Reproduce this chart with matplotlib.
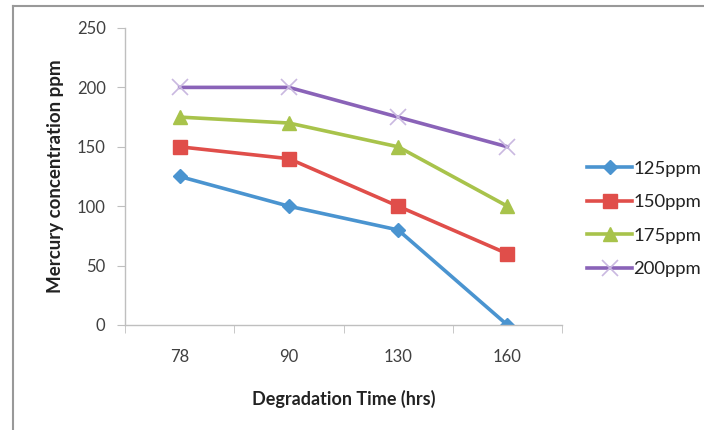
import matplotlib.pyplot as plt
import numpy as np

# data
times = ["78", "90", "130", "160"]
conc_125 = [125, 100, 80, 0]
conc_150 = [150, 140, 100, 60]
conc_175 = [175, 170, 150, 100]
conc_200 = [200, 200, 175, 150]
series_names = ["125ppm", "150ppm", "175ppm", "200ppm"]

plt.rcParams['font.family'] = ['Lato', 'DejaVu Sans']

fig = plt.figure(figsize=(7.04, 4.30), dpi=100)
ax = fig.add_axes([0.1776, 0.2442, 0.6207, 0.6907])

x = np.arange(len(times))
ax.plot(x, conc_125, color="#4A94D0", lw=2.6, marker="D", ms=7,
        label=series_names[0])
ax.plot(x, conc_150, color="#E04E4A", lw=2.6, marker="s", ms=10,
        label=series_names[1])
ax.plot(x, conc_175, color="#A8C34B", lw=2.6, marker="^", ms=10,
        label=series_names[2])
ax.plot(x, conc_200, color="#8A63B8", lw=2.6, marker="x", ms=11,
        mec="#C9B8E0", mew=1.2, label=series_names[3])

ax.set_xlim(-0.5, len(times) - 0.5)
ax.set_ylim(0, 250)
ax.set_yticks(np.arange(0, 251, 50))
ax.set_xticks(x)
ax.set_xticklabels(times)
ax.set_xticks(np.arange(-0.5, len(times)), minor=True)

for side in ["top", "right"]:
    ax.spines[side].set_visible(False)
for side in ["left", "bottom"]:
    ax.spines[side].set_color("#BFBFBF")
    ax.spines[side].set_linewidth(1.0)

ax.tick_params(axis="x", which="major", length=0, pad=17,
               labelsize=12, labelcolor="#404040")
ax.tick_params(axis="x", which="minor", length=6, color="#BFBFBF",
               direction="out")
ax.tick_params(axis="y", length=6, color="#BFBFBF", pad=8,
               labelsize=12, labelcolor="#404040")

ax.set_xlabel("Degradation Time (hrs)", fontsize=13, fontweight="bold",
              color="#222222", labelpad=18)
ax.set_ylabel("Mercury concentration ppm", fontsize=13.5, fontweight="bold",
              color="#222222", labelpad=9)

ax.legend(loc="center left", bbox_to_anchor=(1.02, 0.357), frameon=False,
          fontsize=13.3, labelcolor="#222222", handlelength=2.4,
          handletextpad=0.1, labelspacing=0.95)

# outer chart-area border (only left and top are visible in the reference)
fig.add_artist(plt.Line2D([0.0185, 0.0185], [0.0, 0.986], color="#999999",
                          lw=1.5, transform=fig.transFigure))
fig.add_artist(plt.Line2D([0.0185, 1.0], [0.986, 0.986], color="#999999",
                          lw=1.5, transform=fig.transFigure))

fig.savefig("out.png", dpi=100)
